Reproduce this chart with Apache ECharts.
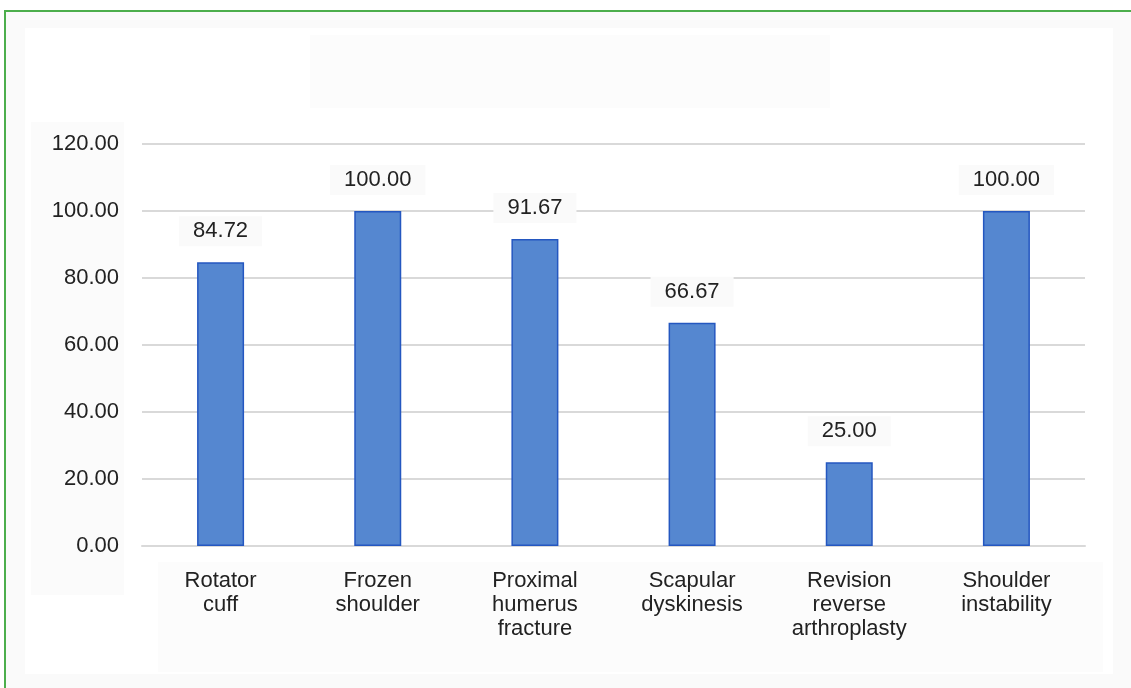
<!DOCTYPE html>
<html>
<head>
<meta charset="utf-8">
<title>Shoulder conditions</title>
<script src="https://cdn.jsdelivr.net/npm/echarts@6/dist/echarts.min.js"></script>
<style>
  html, body { margin: 0; padding: 0; background: #ffffff; }
  #chart { width: 1131px; height: 688px; }
</style>
</head>
<body>
<div id="chart"></div>
<script>
// Categories along the x axis
const categories = [
  'Rotator\ncuff',
  'Frozen\nshoulder',
  'Proximal\nhumerus\nfracture',
  'Scapular\ndyskinesis',
  'Revision\nreverse\narthroplasty',
  'Shoulder\ninstability'
];

// Percentage value for each category
const values = [84.72, 100.00, 91.67, 66.67, 25.00, 100.00];

// Value axis range and step
const yMin = 0;
const yMax = 120;
const yStep = 20;

const FONT = '"Liberation Sans", Arial, Helvetica, sans-serif';
const chart = echarts.init(document.getElementById('chart'), null, { renderer: 'canvas' });

chart.setOption({
  backgroundColor: '#ffffff',
  animation: false,
  graphic: [
    // faint panel areas behind the chart
    { type: 'rect', silent: true, z: -10, shape: { x: 5, y: 11, width: 1130, height: 680 }, style: { fill: '#fafafa' } },
    { type: 'rect', silent: true, z: -9, shape: { x: 25, y: 28, width: 1088, height: 646 }, style: { fill: '#ffffff' } },
    { type: 'rect', silent: true, z: -8, shape: { x: 310, y: 35, width: 520, height: 73 }, style: { fill: '#fcfcfc' } },
    { type: 'rect', silent: true, z: -8, shape: { x: 31, y: 122, width: 93, height: 473 }, style: { fill: '#fbfbfb' } },
    { type: 'rect', silent: true, z: -8, shape: { x: 158, y: 562, width: 945, height: 110 }, style: { fill: '#fcfcfc' } },
    // green frame
    { type: 'rect', silent: true, z: 100, shape: { x: 5, y: 11, width: 1140, height: 700 }, style: { fill: 'none', stroke: '#4cae4c', lineWidth: 2 } }
  ],
  grid: { left: 142, right: 46, top: 144, bottom: 142, containLabel: false },
  xAxis: {
    type: 'category',
    data: categories,
    axisLine: { show: true, lineStyle: { color: '#d9d9d9', width: 2 } },
    axisTick: { show: false },
    axisLabel: {
      color: '#222222',
      fontFamily: FONT,
      fontSize: 22,
      lineHeight: 24,
      margin: 23,
      interval: 0
    }
  },
  yAxis: {
    type: 'value',
    min: yMin,
    max: yMax,
    interval: yStep,
    axisLine: { show: false },
    axisTick: { show: false },
    splitLine: { show: true, lineStyle: { color: '#d9d9d9', width: 2 } },
    axisLabel: {
      color: '#222222',
      fontFamily: FONT,
      fontSize: 22,
      margin: 23,
      formatter: v => v.toFixed(2)
    }
  },
  series: [{
    type: 'bar',
    data: values,
    barWidth: 47,
    itemStyle: { color: '#5587d0', borderColor: '#2457c0', borderWidth: 1.5 },
    label: {
      show: true,
      position: 'top',
      distance: 16,
      color: '#222222',
      fontFamily: FONT,
      fontSize: 22,
      backgroundColor: '#fafafa',
      padding: [4, 14],
      formatter: p => p.value.toFixed(2)
    }
  }]
});
</script>
</body>
</html>
